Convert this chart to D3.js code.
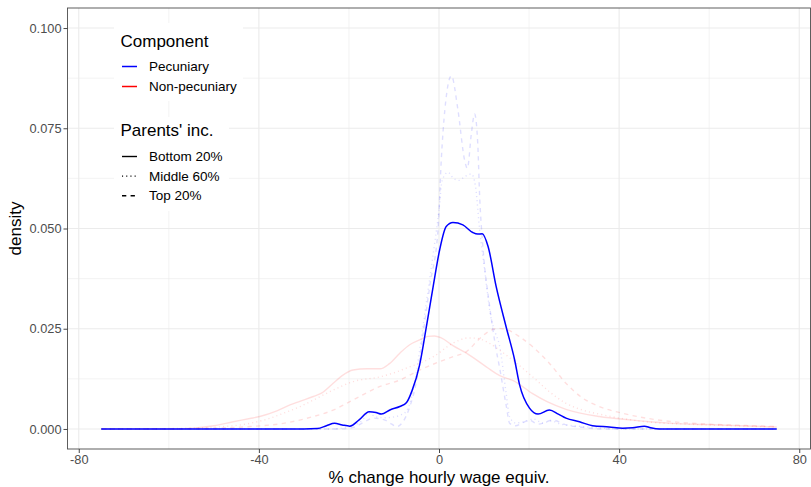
<!DOCTYPE html>
<html>
<head>
<meta charset="utf-8">
<script src="https://cdn.jsdelivr.net/npm/d3@7"></script>
<style>
  html, body { margin: 0; padding: 0; background: #ffffff; }
  svg { display: block; font-family: "Liberation Sans", Arial, Helvetica, sans-serif; }
</style>
</head>
<body>
<svg id="chart" width="811" height="487"></svg>
<script>
// Density estimates of the % change in hourly wage equivalent, [x, density]
const pecBottom = [[-75,0],[-30,0],[-27,0.0001],[-25,0.0008],[-23.2,0.0014],[-21.5,0.0010],[-19.8,0.0007],
  [-17.8,0.0022],[-15.5,0.0043],[-14,0.0041],[-12.8,0.0037],[-10.8,0.0048],[-8.7,0.0056],[-7.2,0.0066],
  [-6,0.0095],[-4.3,0.016],[-2.8,0.0255],[-1.3,0.0355],[0.15,0.0447],[1.6,0.0505],[3.1,0.0515],[5.3,0.0509],
  [7.5,0.049],[8.6,0.0486],[9.6,0.0487],[10.9,0.0455],[12.7,0.0355],[14.9,0.0255],[16.8,0.0172],[17.9,0.0110],
  [20.1,0.0052],[22,0.0037],[24.5,0.0047],[26.5,0.0037],[28.2,0.0027],[31.2,0.0018],[34.1,0.0008],[37.8,0.0005],
  [40.8,0.0002],[43,0.0003],[45.6,0.0007],[47,0.0003],[49,0],[75,0]];

const pecMiddle = [[-75,0],[-24,0],[-20,0.0006],[-17,0.0022],[-15.7,0.0040],[-14,0.0030],[-12,0.0028],[-10,0.0030],
  [-8.5,0.0035],[-7.2,0.0045],[-5.5,0.011],[-4,0.022],[-2.5,0.034],[-1,0.046],[0,0.0546],[0.7,0.062],[2.0,0.064],
  [3.2,0.0625],[4.4,0.062],[5.8,0.063],[7.2,0.0636],[8.1,0.0605],[9,0.050],[10.1,0.040],[11.5,0.028],[12.5,0.024],
  [13.4,0.021],[14.9,0.009],[15.7,0.003],[17,0.0015],[19,0.0018],[21,0.0025],[23,0.0015],[25,0.002],[27,0.0012],
  [30,0.0008],[35,0.0003],[40,0],[75,0]];

const pecTop = [[-75,0],[-22,0],[-19,0.0004],[-16.5,0.0018],[-14.6,0.0027],[-12,0.0022],[-10.5,0.0012],[-9.4,0.0006],
  [-8,0.0018],[-6.5,0.0055],[-5,0.012],[-3.5,0.024],[-2,0.036],[-0.2,0.050],[0.5,0.067],[1.3,0.0796],[2.75,0.0881],
  [4.2,0.0796],[5.7,0.067],[6.3,0.065],[7.2,0.0738],[7.9,0.0786],[8.6,0.0713],[9.0,0.0588],[9.8,0.0447],[11.2,0.031],
  [12.5,0.021],[13.5,0.015],[14.9,0.006],[15.7,0.0014],[17,0.0008],[18.5,0.0015],[20,0.0022],[22,0.0012],[25.3,0.0022],
  [28.2,0.001],[32,0.0004],[36,0],[75,0]];

const nonBottom = [[-75,0],[-58,0],[-54.6,0.0002],[-50,0.0008],[-45.7,0.0018],[-42,0.0026],[-39.8,0.0031],[-36,0.0045],
  [-33.1,0.0060],[-30.9,0.0069],[-27.9,0.0081],[-26,0.0090],[-23.5,0.0114],[-21.5,0.0133],[-19.1,0.0147],[-16,0.0150],
  [-13.1,0.0150],[-11,0.0163],[-8.7,0.0189],[-6.5,0.0210],[-4.3,0.0222],[-2.5,0.0231],[-1,0.0232],[0.5,0.0227],
  [3.1,0.0208],[6.1,0.0189],[10.5,0.0155],[13.5,0.0133],[16.6,0.0120],[20.8,0.0088],[24,0.0068],[28.2,0.0049],
  [35.6,0.0031],[43,0.0022],[46.7,0.0018],[51.9,0.0014],[59.3,0.0011],[66.7,0.0008],[75,0.0005]];

const nonMiddle = [[-75,0],[-60,0.0001],[-49,0.0005],[-42,0.0014],[-38,0.0025],[-34.6,0.0039],[-31,0.0055],
  [-27.9,0.0072],[-23.5,0.0097],[-19.1,0.0118],[-13.1,0.0130],[-10,0.0140],[-6.5,0.0155],[-4.3,0.0164],[-1.3,0.018],
  [3.1,0.0214],[6.5,0.0227],[8.5,0.0226],[11,0.0215],[13.4,0.0197],[17.2,0.0164],[20.8,0.0130],[24.5,0.0093],
  [28.2,0.0064],[31.9,0.0047],[35.6,0.0037],[43,0.0022],[46.7,0.0017],[55,0.0012],[65,0.0008],[75,0.0005]];

const nonTop = [[-75,0],[-55,0.0001],[-42,0.0006],[-34.6,0.0014],[-27.9,0.0031],[-23.5,0.0047],[-19.1,0.0072],
  [-13.1,0.0106],[-8.7,0.0122],[-4.3,0.0147],[0.15,0.0168],[3,0.018],[6.1,0.0193],[9,0.0225],[11,0.0243],[13,0.0251],
  [15,0.0248],[17.9,0.0230],[20.8,0.0205],[24.5,0.0164],[28.2,0.0114],[31.9,0.0077],[35.6,0.0056],[40.8,0.0039],
  [46,0.0027],[52,0.0018],[60,0.0012],[67,0.0009],[75,0.0006]];

const components = ["Pecuniary", "Non-pecuniary"];
const incomeGroups = ["Bottom 20%", "Middle 60%", "Top 20%"];
const xTicks = [-80, -40, 0, 40, 80];
const yTicks = [0, 0.025, 0.05, 0.075, 0.1];

const series = [
  { comp: "Non-pecuniary", group: "Bottom 20%", values: nonBottom },
  { comp: "Non-pecuniary", group: "Middle 60%", values: nonMiddle },
  { comp: "Non-pecuniary", group: "Top 20%", values: nonTop },
  { comp: "Pecuniary", group: "Middle 60%", values: pecMiddle },
  { comp: "Pecuniary", group: "Top 20%", values: pecTop },
  { comp: "Pecuniary", group: "Bottom 20%", values: pecBottom, highlight: true }
];

const colour = d3.scaleOrdinal().domain(components).range(["#0000ff", "#ff0000"]);
const dash = d3.scaleOrdinal().domain(incomeGroups).range(["none", "1.1 3.1", "4.3 4.3"]);

const svg = d3.select("#chart");
const panel = { left: 67.5, right: 810.5, top: 8, bottom: 449 };

const x = d3.scaleLinear().domain([-82.5, 82.5]).range([panel.left, panel.right]);
const y = d3.scaleLinear().domain([-0.005, 0.105]).range([panel.bottom, panel.top]);

// panel grid
const grid = svg.append("g");
const xMinor = [-60, -20, 20, 60];
const yMinor = [0.0125, 0.0375, 0.0625, 0.0875];
grid.selectAll(".xminor").data(xMinor).join("line")
  .attr("x1", d => x(d)).attr("x2", d => x(d)).attr("y1", panel.top).attr("y2", panel.bottom)
  .attr("stroke", "#ebebeb").attr("stroke-width", 0.6);
grid.selectAll(".yminor").data(yMinor).join("line")
  .attr("y1", d => y(d)).attr("y2", d => y(d)).attr("x1", panel.left).attr("x2", panel.right)
  .attr("stroke", "#ebebeb").attr("stroke-width", 0.6);
grid.selectAll(".xmajor").data(xTicks).join("line")
  .attr("x1", d => x(d)).attr("x2", d => x(d)).attr("y1", panel.top).attr("y2", panel.bottom)
  .attr("stroke", "#ebebeb").attr("stroke-width", 1.1);
grid.selectAll(".ymajor").data(yTicks).join("line")
  .attr("y1", d => y(d)).attr("y2", d => y(d)).attr("x1", panel.left).attr("x2", panel.right)
  .attr("stroke", "#ebebeb").attr("stroke-width", 1.1);

// density curves
const line = d3.line().x(d => x(d[0])).y(d => y(d[1])).curve(d3.curveMonotoneX);
svg.append("g").selectAll("path").data(series).join("path")
  .attr("d", d => line(d.values))
  .attr("fill", "none")
  .attr("stroke", d => colour(d.comp))
  .attr("stroke-opacity", d => d.highlight ? 1 : 0.13)
  .attr("stroke-width", d => d.highlight ? 1.5 : 1.4)
  .attr("stroke-dasharray", d => dash(d.group));

// panel border
svg.append("rect")
  .attr("x", panel.left).attr("y", panel.top)
  .attr("width", panel.right - panel.left).attr("height", panel.bottom - panel.top)
  .attr("fill", "none").attr("stroke", "#4d4d4d").attr("stroke-width", 0.9);

// axes
const xAxis = svg.append("g").attr("transform", `translate(0,${panel.bottom})`)
  .call(d3.axisBottom(x).tickValues(xTicks).tickSize(4).tickPadding(2).tickFormat(d3.format("d")));
const yAxis = svg.append("g").attr("transform", `translate(${panel.left},0)`)
  .call(d3.axisLeft(y).tickValues(yTicks).tickSize(4).tickPadding(2).tickFormat(d3.format(".3f")));
[xAxis, yAxis].forEach(a => {
  a.select(".domain").remove();
  a.selectAll(".tick line").attr("stroke", "#333333").attr("stroke-width", 0.9);
  a.selectAll(".tick text").attr("fill", "#4d4d4d").style("font-size", "12.8px")
    .style("font-family", "'Liberation Sans', Arial, sans-serif");
});
xAxis.selectAll(".tick text").text(d => d < 0 ? "-" + Math.abs(d) : d);

// axis titles
svg.append("text")
  .attr("x", (panel.left + panel.right) / 2).attr("y", 483)
  .attr("text-anchor", "middle").style("font-size", "17px").attr("fill", "#000")
  .text("% change hourly wage equiv.");
svg.append("text")
  .attr("transform", `translate(21,${(panel.top + panel.bottom) / 2}) rotate(-90)`)
  .attr("text-anchor", "middle").style("font-size", "17px").attr("fill", "#000")
  .text("density");

// legends
const leg1 = svg.append("g");
leg1.append("rect").attr("x", 114).attr("y", 23).attr("width", 129).attr("height", 78).attr("fill", "#ffffff");
leg1.append("text").attr("x", 120.5).attr("y", 47).style("font-size", "17px").text("Component");
components.forEach((c, i) => {
  const cy = 66.5 + i * 20;
  leg1.append("line").attr("x1", 122).attr("x2", 137).attr("y1", cy).attr("y2", cy)
    .attr("stroke", colour(c)).attr("stroke-width", 1.5);
  leg1.append("text").attr("x", 149).attr("y", cy + 4.7).style("font-size", "13.5px").attr("fill", "#000").text(c);
});

const leg2 = svg.append("g");
leg2.append("rect").attr("x", 114).attr("y", 117).attr("width", 115).attr("height", 94).attr("fill", "#ffffff");
leg2.append("text").attr("x", 120.5).attr("y", 136).style("font-size", "17px").text("Parents' inc.");
incomeGroups.forEach((g, i) => {
  const cy = 156.5 + i * 19.6;
  leg2.append("line").attr("x1", 122).attr("x2", 137).attr("y1", cy).attr("y2", cy)
    .attr("stroke", "#000").attr("stroke-width", 1.4).attr("stroke-dasharray", dash(g));
  leg2.append("text").attr("x", 149).attr("y", cy + 4.7).style("font-size", "13.5px").attr("fill", "#000").text(g);
});
</script>
</body>
</html>
